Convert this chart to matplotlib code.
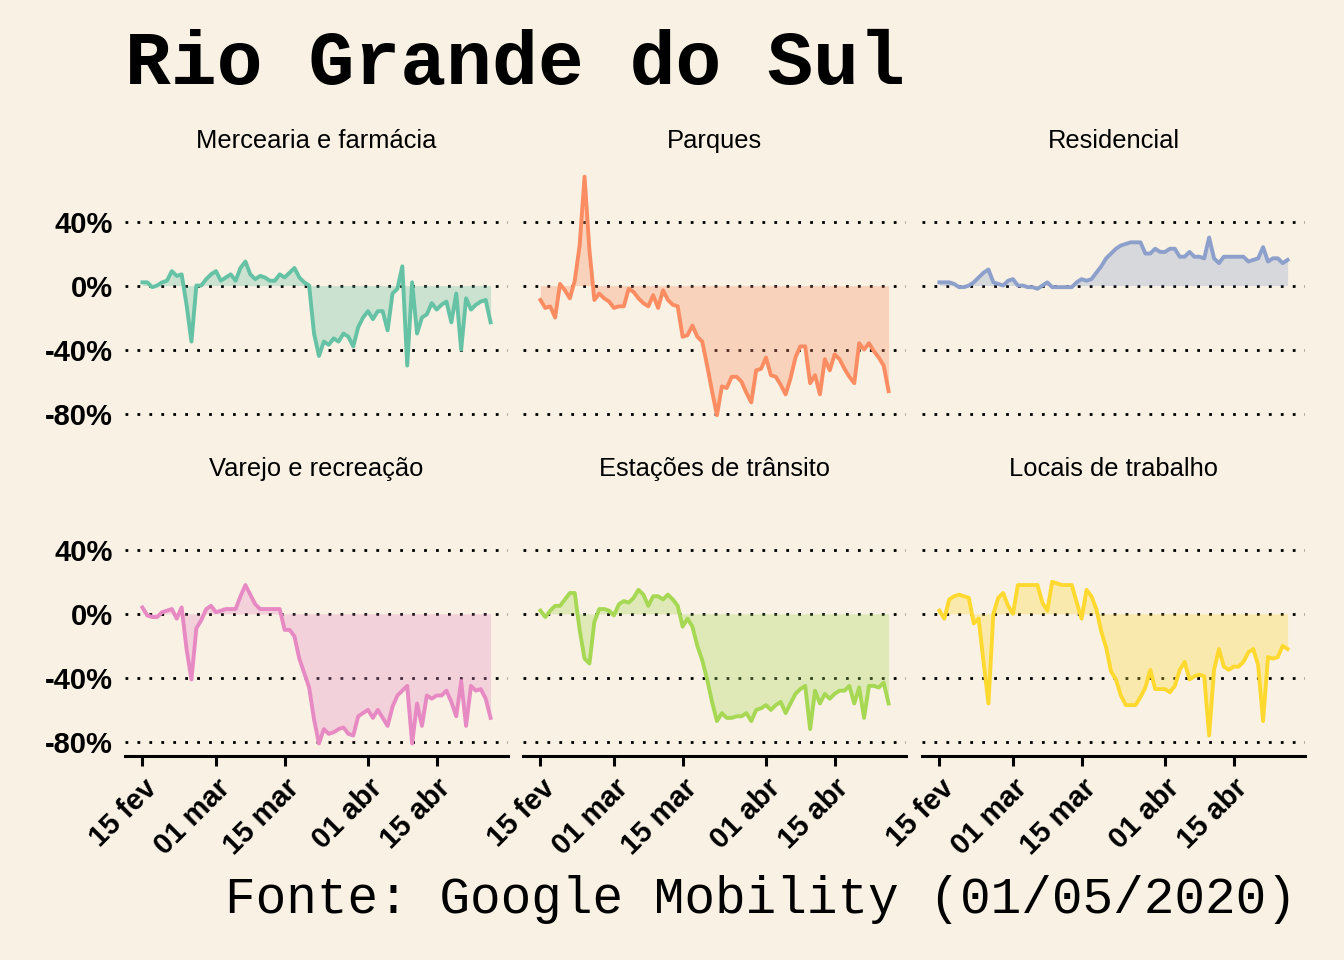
import matplotlib
matplotlib.use("Agg")
import matplotlib.pyplot as plt
import pandas as pd
import numpy as np

# daily values, 15 fev -> 26 abr 2020 (change from baseline, %)
dates = pd.date_range("2020-02-15", "2020-04-26")

mercearia = [2, 2, -1, 0, 2, 3, 9, 6, 7, -12, -35, 0, 0, 4, 7, 9, 3, 5, 7, 3,
             11, 15, 7, 4, 6, 5, 3, 3, 7, 5, 8, 11, 5, 2, 0, -30, -44, -35, -37, -33,
             -35, -30, -32, -38, -26, -20, -16, -21, -16, -16, -28, -5, -2, 12, -50, 2, -30, -20, -18, -11,
             -15, -12, -10, -23, -5, -40, -8, -15, -12, -10, -9, -23]
parques = [-9, -14, -13, -20, 1, -3, -8, 3, 25, 68, 22, -9, -5, -8, -10, -14, -13, -13, -2, -4,
           -8, -11, -13, -6, -14, -3, -9, -12, -13, -32, -31, -25, -32, -35, -50, -66, -81, -63, -64, -57,
           -57, -60, -67, -73, -53, -52, -45, -56, -57, -62, -68, -58, -45, -38, -38, -61, -56, -68, -46, -53,
           -43, -46, -52, -57, -61, -36, -40, -36, -41, -45, -50, -66]
residencial = [2, 2, 2, 1, -1, -1, 0, 2, 5, 8, 10, 2, 1, 0, 3, 4, 0, 0, -1, -1,
               -2, 0, 2, -1, -1, -1, -1, -1, 2, 4, 3, 4, 8, 12, 17, 20, 23, 25, 26, 27,
               27, 27, 20, 20, 23, 21, 21, 23, 23, 18, 18, 21, 18, 18, 17, 30, 17, 14, 18, 18,
               18, 18, 18, 15, 16, 17, 24, 15, 17, 17, 14, 16]
varejo = [4, -1, -2, -2, 1, 2, 3, -3, 4, -22, -41, -9, -4, 3, 5, 1, 2, 3, 3, 3,
          11, 18, 12, 6, 3, 3, 3, 3, 3, -10, -10, -14, -28, -37, -46, -66, -81, -72, -75, -74,
          -72, -71, -75, -76, -64, -62, -60, -65, -60, -65, -70, -58, -51, -48, -45, -81, -56, -70, -51, -53,
          -51, -51, -48, -55, -64, -42, -70, -45, -48, -47, -53, -65]
estacoes = [2, -2, 2, 5, 5, 9, 13, 13, -10, -28, -31, -5, 3, 3, 2, -1, 6, 8, 7, 10,
            15, 12, 5, 11, 11, 9, 12, 9, 5, -8, -3, -8, -20, -29, -41, -55, -67, -62, -65, -65,
            -64, -64, -62, -67, -60, -59, -57, -60, -57, -55, -62, -56, -50, -47, -45, -72, -48, -56, -50, -53,
            -50, -48, -48, -45, -56, -46, -65, -45, -45, -46, -43, -56]
trabalho = [2, -3, 9, 11, 12, 11, 10, -6, -3, -30, -56, 0, 10, 13, 5, 0, 18, 18, 18, 18,
            18, 7, 2, 20, 19, 18, 18, 18, 7, -3, 15, 11, 3, -11, -21, -36, -41, -51, -57, -57,
            -57, -52, -46, -35, -47, -47, -47, -49, -45, -35, -30, -41, -39, -38, -39, -76, -35, -22, -33, -35,
            -33, -33, -30, -24, -22, -32, -67, -27, -28, -27, -20, -22]

titles = ["Mercearia e farmácia", "Parques", "Residencial",
          "Varejo e recreação", "Estações de trânsito", "Locais de trabalho"]
series = [mercearia, parques, residencial, varejo, estacoes, trabalho]
colors = ["#66c2a5", "#fc8d62", "#8da0cb", "#e78ac3", "#a6d854", "#ffd92f"]

tick_dates = pd.to_datetime(["2020-02-15", "2020-03-01", "2020-03-15", "2020-04-01", "2020-04-15"])
tick_labels = ["15 fev", "01 mar", "15 mar", "01 abr", "15 abr"]
y_ticks = [40, 0, -40, -80]
y_labels = ["40%", "0%", "-40%", "-80%"]

bg = "#f8f1e4"
plt.rcParams["font.family"] = ["Liberation Sans", "DejaVu Sans"]

fig = plt.figure(figsize=(13.44, 9.6), dpi=100, facecolor=bg)

lefts = [125, 523, 922]
tops = [164.7, 493]
W, H = 1344, 960
aw, ah = 383, 262.5

pad = pd.Timedelta(days=3.55)
for i, (title, vals, col) in enumerate(zip(titles, series, colors)):
    r, c = divmod(i, 3)
    ax = fig.add_axes([lefts[c] / W, 1 - (tops[r] + ah) / H, aw / W, ah / H])
    ax.set_facecolor(bg)
    for s in ax.spines.values():
        s.set_visible(False)
    for yv in y_ticks:
        ax.axhline(yv, color="black", lw=2, ls=(0, (1, 3.3)), zorder=1)
    v = np.array(vals, dtype=float)
    ax.fill_between(dates, 0, v, color=col, alpha=0.3, lw=0, zorder=2)
    ax.plot(dates, v, color=col, lw=2.8, zorder=3, solid_joinstyle="round")
    ax.set_xlim(dates[0] - pad, dates[-1] + pad)
    ax.set_ylim(-88.5, 75.5)
    ax.set_title(title, fontsize=18.4, pad=12)
    ax.set_yticks(y_ticks)
    if c == 0:
        ax.set_yticklabels(y_labels, fontsize=21, fontweight="bold")
    else:
        ax.set_yticklabels([])
    ax.tick_params(axis="y", length=0, pad=9)
    ax.set_xticks(tick_dates)
    if r == 1:
        ax.spines["bottom"].set_visible(True)
        ax.spines["bottom"].set_linewidth(2.2)
        ax.set_xticklabels(tick_labels, fontsize=21, fontweight="bold",
                           rotation=45, ha="right", va="top", rotation_mode="anchor")
        ax.tick_params(axis="x", length=7, width=2.2, pad=6)
    else:
        ax.set_xticklabels([])
        ax.tick_params(axis="x", length=0)

fig.text(125 / W, 1 - 64 / H, "Rio Grande do Sul", fontsize=55, fontweight="bold",
         family="Liberation Mono", ha="left", va="center")
fig.text(1297 / W, 1 - 899 / H, "Fonte: Google Mobility (01/05/2020)", fontsize=36.7,
         family="Liberation Mono", ha="right", va="center")

fig.savefig("out.png", dpi=100, facecolor=bg)
